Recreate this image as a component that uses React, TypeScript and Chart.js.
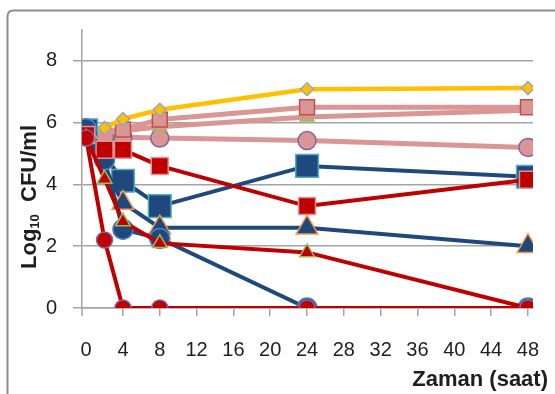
import React, { useEffect, useRef } from "react";
import { Chart, registerables } from "chart.js";

Chart.register(...registerables);

// Time axis (hours) and log axis tick values
const xTickValues = [0, 4, 8, 12, 16, 20, 24, 28, 32, 36, 40, 44, 48];
const yTickValues = [0, 2, 4, 6, 8];

// Log10 CFU/ml counts per series
const goldHours = [0, 2, 4, 8, 24, 48];
const goldValues = [5.7, 5.83, 6.12, 6.42, 7.08, 7.12];

const pinkSquareHours = [0, 4, 8, 24, 48];
const pinkSquareValues = [5.7, 5.78, 6.1, 6.5, 6.5];

const pinkTriangleHours = [0, 8, 24, 48];
const pinkTriangleValues = [5.6, 5.87, 6.18, 6.4];

const pinkCircleHours = [0, 2, 4, 8, 24, 48];
const pinkCircleValues = [5.55, 5.53, 5.53, 5.5, 5.42, 5.2];

const blueSquareHours = [0, 4, 8, 24, 48];
const blueSquareValues = [5.75, 4.12, 3.3, 4.6, 4.25];

const blueTriangleHours = [0, 4, 8, 24, 48];
const blueTriangleValues = [5.7, 3.4, 2.6, 2.6, 2.0];

const blueCircleHours = [0, 2, 4, 8, 24, 48];
const blueCircleValues = [5.8, 4.8, 2.55, 2.25, 0, 0];

const redSquareHours = [0, 2, 4, 8, 24, 48];
const redSquareValues = [5.6, 5.12, 5.12, 4.6, 3.3, 4.15];

const redTriangleHours = [0, 2, 4, 8, 24, 48];
const redTriangleValues = [5.5, 4.18, 2.8, 2.1, 1.8, 0];

const redCircleHours = [0, 2, 4, 8, 24, 48];
const redCircleValues = [5.5, 2.2, 0, 0, 0, 0];

const points = (hours: number[], values: number[]) =>
  hours.map((h, i) => ({ x: h, y: values[i] }));

const GOLD = "#FFC000";
const PINK = "#D99694";
const BLUE = "#1F497D";
const RED = "#C00000";
const AXIS_GREY = "#a3a3a3";
const TEXT = "#1e1e1e";
const FONT = "'Liberation Sans', Arial, sans-serif";

const series = (
  data: { x: number; y: number }[],
  line: string,
  width: number,
  style: string,
  radius: number,
  fill: string,
  border: string,
  borderWidth = 1.5
) => ({
  data,
  borderColor: line,
  borderWidth: width,
  pointStyle: style,
  pointRadius: radius,
  pointBackgroundColor: fill,
  pointBorderColor: border,
  pointBorderWidth: borderWidth,
  tension: 0,
  fill: false,
});

// Frame, axis stub and axis titles (the y title carries a subscript)
const decorations = {
  id: "decorations",
  beforeDraw(chart: any) {
    const ctx = chart.ctx;
    ctx.save();
    ctx.fillStyle = "#ffffff";
    ctx.fillRect(0, 0, chart.width, chart.height);
    ctx.strokeStyle = "#8c8c8c";
    ctx.lineWidth = 2;
    ctx.beginPath();
    const x0 = 7.5, y0 = 10.5, r = 6;
    ctx.moveTo(x0, chart.height + 5);
    ctx.lineTo(x0, y0 + r);
    ctx.quadraticCurveTo(x0, y0, x0 + r, y0);
    ctx.lineTo(chart.width + 5, y0);
    ctx.stroke();
    ctx.restore();
  },
  afterDraw(chart: any) {
    const ctx = chart.ctx;
    const area = chart.chartArea;
    ctx.save();
    ctx.strokeStyle = AXIS_GREY;
    ctx.lineWidth = 1.5;
    ctx.beginPath();
    ctx.moveTo(area.left, area.bottom);
    ctx.lineTo(area.left, area.bottom + 8);
    ctx.stroke();

    ctx.fillStyle = TEXT;
    ctx.textBaseline = "alphabetic";
    ctx.font = `bold 22px ${FONT}`;
    ctx.textAlign = "right";
    ctx.fillText("Zaman (saat)", 548, 386);

    ctx.translate(36, 269);
    ctx.rotate(-Math.PI / 2);
    ctx.textAlign = "left";
    ctx.font = `bold 22px ${FONT}`;
    ctx.fillText("Log", 0, 0);
    let w = ctx.measureText("Log").width;
    ctx.font = `bold 13px ${FONT}`;
    ctx.fillText("10", w, 3);
    w += ctx.measureText("10").width;
    ctx.font = `bold 22px ${FONT}`;
    ctx.fillText("  CFU/ml", w, 0);
    ctx.restore();
  },
};

export default function App() {
  const canvasRef = useRef<HTMLCanvasElement | null>(null);

  useEffect(() => {
    if (!canvasRef.current) return;
    const chart = new Chart(canvasRef.current, {
      type: "line",
      data: {
        datasets: [
          series(points(redCircleHours, redCircleValues), RED, 4, "circle", 8, RED, "#8064A2"),
          series(points(redTriangleHours, redTriangleValues), RED, 4, "triangle", 8.5, RED, "#9BBB59"),
          series(points(redSquareHours, redSquareValues), RED, 4, "rect", 12, RED, PINK),
          series(points(blueCircleHours, blueCircleValues), BLUE, 4, "circle", 10, BLUE, "#4F81BD"),
          series(points(blueTriangleHours, blueTriangleValues), BLUE, 4, "triangle", 12.5, BLUE, "#F79646"),
          series(points(blueSquareHours, blueSquareValues), BLUE, 4, "rect", 16, BLUE, "#4BACC6"),
          series(points(goldHours, goldValues), GOLD, 4.5, "rectRot", 6.5, GOLD, "#8EA9C1"),
          series(points(pinkSquareHours, pinkSquareValues), PINK, 5, "rect", 10.5, PINK, "#C0504D"),
          series(points(pinkTriangleHours, pinkTriangleValues), PINK, 5, "triangle", 8, PINK, "#9BBB59"),
          series(points(pinkCircleHours, pinkCircleValues), PINK, 5, "circle", 9, PINK, "#8064A2"),
        ],
      },
      options: {
        responsive: false,
        animation: false,
        events: [],
        layout: { padding: { left: 0, top: 30, right: 22, bottom: 0 } },
        plugins: { legend: { display: false }, tooltip: { enabled: false } },
        scales: {
          x: {
            type: "linear",
            min: -0.45,
            max: 48.55,
            afterBuildTicks: (scale: any) => {
              scale.ticks = xTickValues.map((v) => ({ value: v }));
            },
            afterFit: (scale: any) => {
              scale.height = 86;
              scale.paddingLeft = 0;
              scale.paddingRight = 0;
            },
            grid: {
              drawOnChartArea: false,
              drawTicks: true,
              tickLength: 8,
              lineWidth: 1.5,
              color: (c: any) => (c.tick && c.tick.value === 0 ? "rgba(0,0,0,0)" : AXIS_GREY),
            },
            border: { display: true, color: AXIS_GREY, width: 1.5 },
            ticks: {
              autoSkip: false,
              maxRotation: 0,
              padding: 22,
              color: TEXT,
              font: { family: FONT, size: 20 },
              callback: (v: any) => String(v),
            },
          },
          y: {
            type: "linear",
            min: 0,
            max: 9,
            afterBuildTicks: (scale: any) => {
              scale.ticks = yTickValues.map((v) => ({ value: v }));
            },
            afterFit: (scale: any) => {
              scale.width = 82;
              scale.paddingTop = 0;
              scale.paddingBottom = 0;
            },
            grid: {
              drawOnChartArea: true,
              drawTicks: true,
              tickLength: 9,
              lineWidth: 1.5,
              color: AXIS_GREY,
            },
            border: { display: true, color: AXIS_GREY, width: 1.5 },
            ticks: {
              padding: 16,
              color: TEXT,
              font: { family: FONT, size: 20 },
              callback: (v: any) => String(v),
            },
          },
        },
      },
      plugins: [decorations],
    } as any);
    return () => chart.destroy();
  }, []);

  return (
    <div style={{ position: "fixed", left: 0, top: 0, width: 555, height: 394, background: "#fff" }}>
      <canvas ref={canvasRef} width={555} height={394} style={{ display: "block" }} />
    </div>
  );
}
